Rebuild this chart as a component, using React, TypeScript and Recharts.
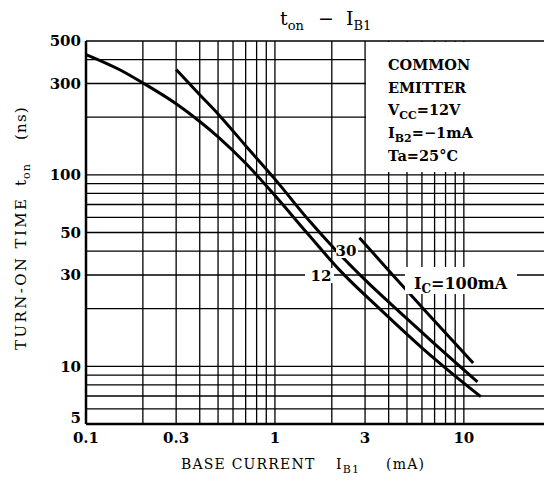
import React from 'react';
import { LineChart, Line, XAxis, YAxis, CartesianGrid } from 'recharts';

// grid positions (log decades) and labelled ticks
const xGrid = [0.1, 0.2, 0.3, 0.4, 0.5, 0.6, 0.7, 0.8, 0.9, 1, 2, 3, 4, 5, 6, 7, 8, 9, 10];
const xLabels = [0.1, 0.3, 1, 3, 10];
const yGrid = [5, 6, 7, 8, 9, 10, 20, 30, 40, 50, 60, 70, 80, 90, 100, 200, 300, 400, 500];
const yLabels = [5, 10, 30, 50, 100, 300, 500];

// turn-on time (ns) vs base current IB1 (mA)
const ic12 = [
  { ib: 0.1, t: 425 },
  { ib: 0.15, t: 355 },
  { ib: 0.2, t: 302 },
  { ib: 0.3, t: 235 },
  { ib: 0.4, t: 190 },
  { ib: 0.5, t: 158 },
  { ib: 0.7, t: 115 },
  { ib: 1.0, t: 78 },
  { ib: 1.5, t: 48.9 },
  { ib: 2.2, t: 31.8 },
  { ib: 3.6, t: 19.9 },
  { ib: 6, t: 12.5 },
  { ib: 9, t: 8.9 },
  { ib: 12.3, t: 6.95 },
];

const ic30 = [
  { ib: 0.3, t: 355 },
  { ib: 0.4, t: 262 },
  { ib: 0.5, t: 208 },
  { ib: 0.7, t: 142 },
  { ib: 1.0, t: 95 },
  { ib: 1.5, t: 58.4 },
  { ib: 2.1, t: 40.4 },
  { ib: 3, t: 28.3 },
  { ib: 4.5, t: 19.5 },
  { ib: 7, t: 13.1 },
  { ib: 11.8, t: 8.3 },
];

const ic100 = [
  { ib: 2.8, t: 47 },
  { ib: 4.2, t: 30 },
  { ib: 6.1, t: 20 },
  { ib: 11.2, t: 10.4 },
];

const serif = '"DejaVu Serif", serif';

const fmt = (labels: number[]) => (v: number) => (labels.includes(v) ? String(v) : '');

const YTick = (props: any) => {
  const { x, y, payload } = props;
  if (!yLabels.includes(payload.value)) return null;
  // the bottom label sits a little above the corner, clear of "0.1"
  const shift = payload.value === 5 ? -6 : 0;
  return (
    <text x={x} y={y + shift} dy="0.36em" textAnchor="end" fill="#000" fontSize={15} fontFamily={serif} fontWeight="bold">
      {payload.value}
    </text>
  );
};

const Overlay = () => (
  <svg
    width={544}
    height={482}
    style={{ position: 'absolute', left: 0, top: 0, pointerEvents: 'none' }}
    fontFamily={serif}
  >
    <g transform="translate(-8,-8)">
      {/* title */}
      <text x={280} y={25} fontSize={19}>
        t<tspan fontSize={13} dy={5}>on</tspan>
      </text>
      <text x={318} y={25} fontSize={19}>−</text>
      <text x={346} y={25} fontSize={19}>
        I<tspan fontSize={13} dy={5}>B1</tspan>
      </text>

      {/* condition box */}
      <rect x={366} y={42} width={190} height={130} fill="#fff" />
      <g fontSize={14.5} fontWeight="bold">
        <text x={388} y={70}>COMMON</text>
        <text x={388} y={93}>EMITTER</text>
        <text x={388} y={115}>
          V<tspan fontSize={11} dy={4}>CC</tspan>
          <tspan dy={-4}>=12V</tspan>
        </text>
        <text x={388} y={138}>
          I<tspan fontSize={11} dy={4}>B2</tspan>
          <tspan dy={-4}>=−1mA</tspan>
        </text>
        <text x={388} y={161}>Ta=25°C</text>
      </g>

      {/* curve labels */}
      <rect x={405} y={267} width={112} height={27} fill="#fff" />
      <text x={414} y={289} fontSize={16} fontWeight="bold">
        I<tspan fontSize={12} dy={4}>C</tspan>
        <tspan dy={-4}>=100mA</tspan>
      </text>
      <rect x={336} y={243} width={22} height={15} fill="#fff" />
      <text x={346} y={256} fontSize={15} fontWeight="bold" textAnchor="middle">30</text>
      <rect x={305} y={268} width={29} height={15} fill="#fff" />
      <text x={321} y={281} fontSize={15} fontWeight="bold" textAnchor="middle">12</text>

      {/* axis titles */}
      <g fontSize={14} letterSpacing={1.2}>
        <text x={181} y={469}>BASE CURRENT</text>
        <text x={336} y={469}>
          I<tspan fontSize={11} dy={4}>B1</tspan>
        </text>
        <text x={386} y={469}>(mA)</text>
      </g>
      <g transform="translate(26,0) rotate(-90)" fontSize={15} letterSpacing={2.4}>
        <text x={-350} y={0}>TURN-ON TIME</text>
        <text x={-186} y={0} letterSpacing={1}>
          t<tspan fontSize={11} dy={4}>on</tspan>
        </text>
        <text x={-140} y={0} letterSpacing={1.2}>(ns)</text>
      </g>
    </g>
  </svg>
);

export default function App() {
  const tick = { fill: '#000', fontSize: 15, fontFamily: serif, fontWeight: 'bold' };
  return (
    <div style={{ position: 'relative', width: 544, height: 482, overflow: 'hidden', background: '#fff' }}>
      <LineChart width={548} height={482} margin={{ top: 33, right: 2, bottom: 36, left: 0 }}>
        <CartesianGrid stroke="#000" strokeWidth={1.3} />
        <XAxis
          type="number"
          dataKey="ib"
          scale="log"
          domain={[0.1, 30]}
          ticks={xGrid}
          tickFormatter={fmt(xLabels)}
          allowDataOverflow
          interval={0}
          height={30}
          tickLine={false}
          tickSize={0}
          tickMargin={8}
          axisLine={{ stroke: '#000', strokeWidth: 2.5 }}
          tick={tick}
        />
        <YAxis
          type="number"
          dataKey="t"
          scale="log"
          domain={[5, 500]}
          ticks={yGrid}
          allowDataOverflow
          interval={0}
          width={78}
          tickLine={false}
          tickSize={0}
          tickMargin={5}
          axisLine={{ stroke: '#000', strokeWidth: 2.5 }}
          tick={<YTick />}
        />
        <Line data={ic12} dataKey="t" type="monotone" stroke="#000" strokeWidth={3} dot={false} isAnimationActive={false} />
        <Line data={ic30} dataKey="t" type="monotone" stroke="#000" strokeWidth={3} dot={false} isAnimationActive={false} />
        <Line data={ic100} dataKey="t" type="monotone" stroke="#000" strokeWidth={3} dot={false} isAnimationActive={false} />
      </LineChart>
      <Overlay />
    </div>
  );
}
